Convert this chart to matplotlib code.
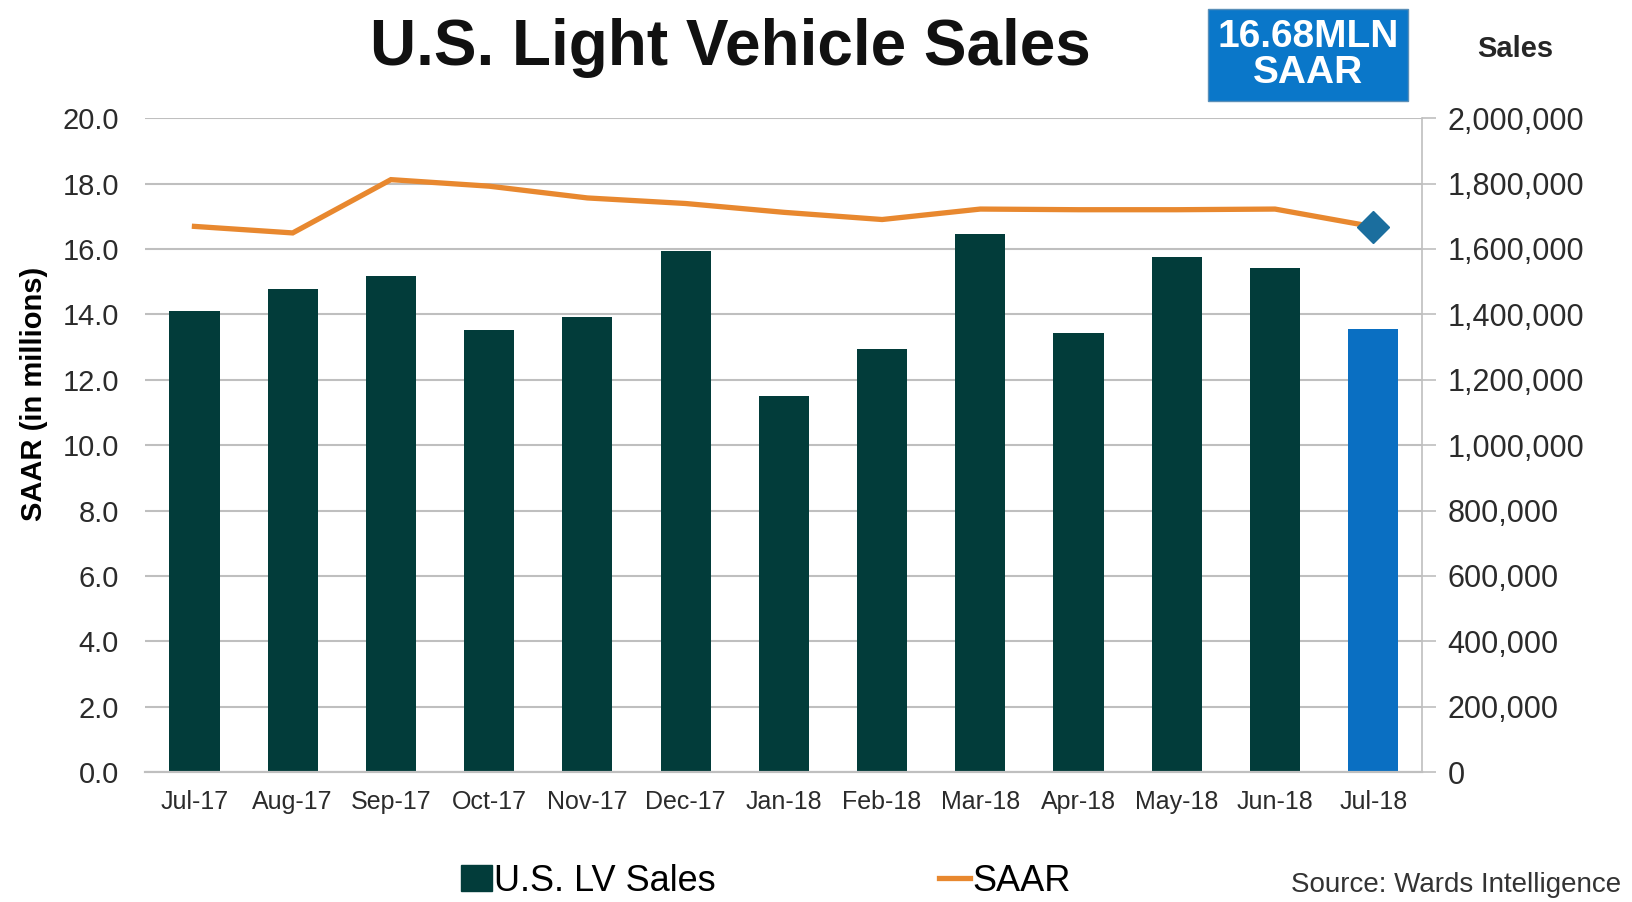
import matplotlib.pyplot as plt
import matplotlib.patches as mpatches
import matplotlib.lines as mlines
import numpy as np
from matplotlib.ticker import FuncFormatter

plt.rcParams['font.family'] = ['Liberation Sans', 'DejaVu Sans']

months = ['Jul-17', 'Aug-17', 'Sep-17', 'Oct-17', 'Nov-17', 'Dec-17', 'Jan-18',
          'Feb-18', 'Mar-18', 'Apr-18', 'May-18', 'Jun-18', 'Jul-18']
# monthly unit sales (right axis)
sales = [1409000, 1476000, 1516000, 1351000, 1391000, 1595000, 1151000,
         1295000, 1646000, 1344000, 1576000, 1542000, 1356000]
# SAAR, millions (left axis)
saar = [16.69, 16.49, 18.12, 17.92, 17.56, 17.39, 17.12,
        16.90, 17.22, 17.20, 17.20, 17.22, 16.68]

bar_color = '#023c3a'
last_color = '#0a6fc2'
line_color = '#e8882f'
marker_color = '#1b6e9e'
grid_color = '#bfbfbf'

fig = plt.figure(figsize=(16.33, 9.02), dpi=100)
ax = fig.add_axes([0.089, 0.144, 0.782, 0.725])
ax2 = ax.twinx()

x = np.arange(len(months))
colors = [bar_color] * (len(months) - 1) + [last_color]
ax2.bar(x, sales, width=0.51, color=colors, zorder=2)
ax2.set_ylim(0, 2000000)
ax2.set_yticks(np.arange(0, 2000001, 200000))
ax2.yaxis.set_major_formatter(FuncFormatter(lambda v, p: f'{int(v):,}'))
ax2.grid(axis='y', color=grid_color, linewidth=1.5, zorder=0)
ax2.set_axisbelow(True)

ax.plot(x, saar, color=line_color, linewidth=3.8, solid_joinstyle='miter')
ax.plot(x[-1], saar[-1], marker='D', markersize=16, color=marker_color, linestyle='none')
ax.set_ylim(0, 20)
ax.set_yticks(np.arange(0, 20.1, 2))
ax.yaxis.set_major_formatter(FuncFormatter(lambda v, p: f'{v:.1f}'))
ax.set_xlim(-0.5, len(months) - 0.5)
ax.set_xticks(x)
ax.set_xticklabels(months)

ax.set_zorder(ax2.get_zorder() + 1)
ax.patch.set_visible(False)

for a in (ax, ax2):
    a.spines['top'].set_visible(False)
    a.spines['left'].set_visible(False)
    a.spines['right'].set_visible(False)
    a.spines['bottom'].set_color(grid_color)
    a.spines['bottom'].set_linewidth(1.5)
ax2.spines['right'].set_visible(True)
ax2.spines['right'].set_color(grid_color)
ax2.spines['right'].set_linewidth(1.2)

ax.tick_params(axis='y', length=0, labelsize=21, labelcolor='#2b2b2b', pad=19)
ax.tick_params(axis='x', length=0, labelsize=18, labelcolor='#2b2b2b', pad=13)
ax2.tick_params(axis='y', length=10, color=grid_color, width=1.2,
                labelsize=22, labelcolor='#2b2b2b', pad=8)

ax.set_ylabel('SAAR (in millions)', fontsize=21, fontweight='bold')
ax.yaxis.set_label_coords(-0.076, 0.578)

fig.text(0.447, 0.947, 'U.S. Light Vehicle Sales', fontsize=46, fontweight='bold',
         ha='center', va='center', color='#111111')
fig.text(0.928, 0.946, 'Sales', fontsize=21, fontweight='bold',
         ha='center', va='center', color='#262626')
fig.text(0.801, 0.939, '16.68MLN\nSAAR', fontsize=28, fontweight='bold',
         ha='center', va='center', color='white', linespacing=1.0,
         bbox=dict(boxstyle='square,pad=0.25', facecolor='#0a77c9',
                   edgecolor='#5a8fb8', linewidth=1))
fig.text(0.993, 0.004, 'Source: Wards Intelligence', fontsize=20,
         ha='right', va='bottom', color='#333333')

h1 = mpatches.Patch(color=bar_color, label='U.S. LV Sales')
h2 = mlines.Line2D([], [], color=line_color, linewidth=3.8, label='SAAR')
fig.legend(handles=[h1, h2], loc='center', bbox_to_anchor=(0.469, 0.023), ncol=2,
           frameon=False, fontsize=26, handlelength=0.85, handleheight=0.7,
           handletextpad=0.05, columnspacing=6.2)

plt.savefig('out.png', dpi=100)
